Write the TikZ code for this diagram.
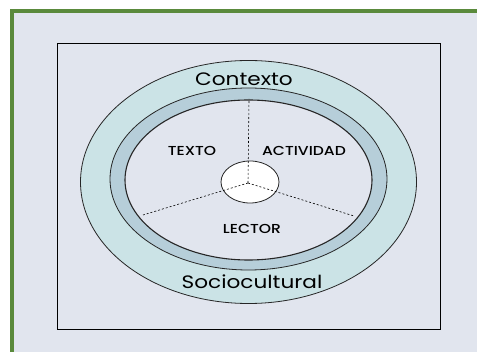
\documentclass[tikz,border=0pt]{standalone}
\usepackage{fontspec}
\setmainfont{Poppins}
\newfontfamily\medio{Poppins Medium}
\definecolor{fondo}{HTML}{E1E5EE}
\definecolor{verde}{HTML}{5A8A3C}
\definecolor{anillo}{HTML}{CBE3E6}
\definecolor{banda}{HTML}{B6CED9}
\newcommand{\ancho}[1]{\scalebox{1.2}[1]{#1}}
\tikzset{
    borde/.style={draw=black!85, line width=.8pt},
    radio/.style={line width=.6pt, dash pattern=on 2pt off 2pt},
    parte/.style={font=\medio\fontsize{13}{13}\selectfont, inner sep=0pt},
    marco/.style={font=\fontsize{18}{18}\selectfont, inner sep=0pt}
}
\begin{document}
\begin{tikzpicture}[x=1pt, y=-1pt]
\useasboundingbox (0,0) rectangle (477,352);
\clip (0,0) rectangle (477,352);
\fill[white] (0,0) rectangle (477,352);
\draw[line width=4pt, draw=verde, fill=fondo](12,11.5) rectangle (495,370);
\draw[line width=.8pt](57,43) rectangle (440,329);

\draw[borde, fill=anillo](248.5,182) ellipse (168 and 121.5);
\draw[borde, fill=banda](248.5,179) ellipse (138.5 and 91);
\draw[borde, line width=1.1pt, fill=fondo](248.5,180) ellipse (123.5 and 80);
\draw[borde, fill=white](250,182) ellipse (29 and 21);

\coordinate (centro) at (248,183);
\foreach \p in {(249,99),(143,215),(354,216)}
{
    \draw[radio](centro)--\p;
}

\node[parte] (texto) at (192,151) {\ancho{TEXTO}};
\node[parte] (actividad) at (304,151) {\ancho{ACTIVIDAD}};
\node[parte] (lector) at (252,229) {\ancho{LECTOR}};
\node[marco] (contexto) at (244,79) {\ancho{Contexto}};
\node[marco] (socio) at (252,282) {\ancho{Sociocultural}};
\end{tikzpicture}
\end{document}
